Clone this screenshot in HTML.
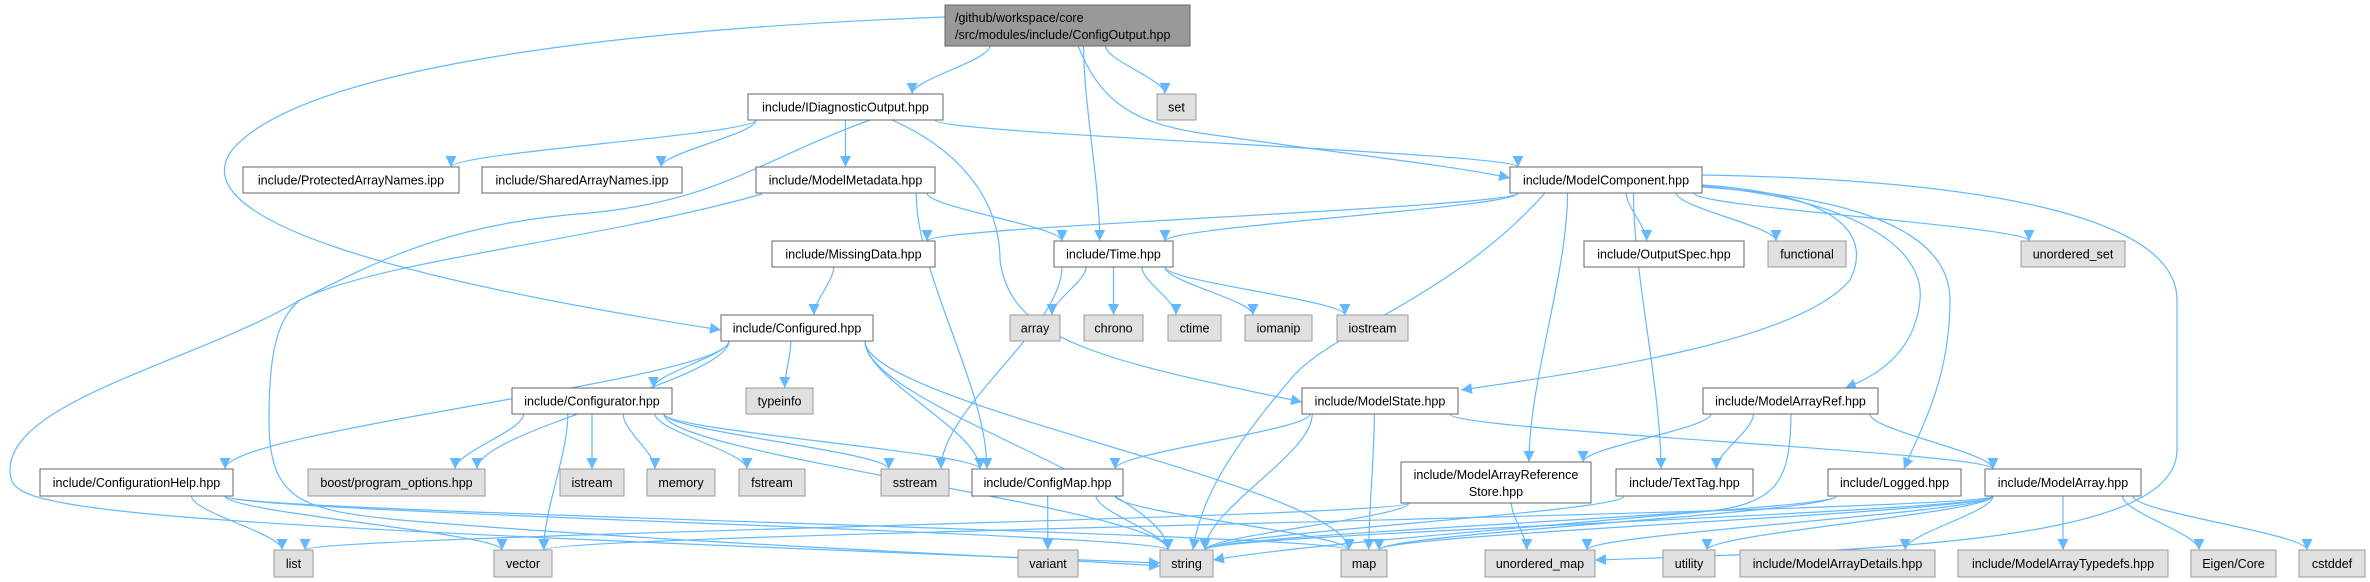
<!DOCTYPE html>
<html><head><meta charset="utf-8"><style>
html,body{margin:0;padding:0;background:#fff;}
svg{display:block;}
text{font-family:"Liberation Sans",Arial,sans-serif;font-size:12.5px;fill:#000;}
</style></head><body>
<svg id="g" width="2370" height="582" viewBox="0 0 2370 582" xmlns="http://www.w3.org/2000/svg">
<defs><marker id="a" viewBox="0 0 10 10" refX="10" refY="5" markerWidth="11" markerHeight="11" markerUnits="userSpaceOnUse" orient="auto"><path d="M0,0L10,5L0,10z" fill="#63b8ff"/></marker></defs>
<g id="edges" fill="none" stroke="#63b8ff" stroke-width="1.2"></g>
<g id="nodes">
<rect x="945" y="5" width="245" height="41" fill="#999" stroke="#666"/>
<text x="955" y="22">/github/workspace/core</text>
<text x="955" y="39">/src/modules/include/ConfigOutput.hpp</text>
<rect x="1401" y="462" width="190" height="41" fill="#fff" stroke="#666"/>
<text x="1496" y="479" text-anchor="middle">include/ModelArrayReference</text>
<text x="1496" y="496" text-anchor="middle">Store.hpp</text>
</g>
</svg>
<script>
var N={
idiag:[748,94,943,120,"include/IDiagnosticOutput.hpp",0],
set:[1157,94,1196,120,"set",1],
prot:[243,167,459,193,"include/ProtectedArrayNames.ipp",0],
shared:[482,167,682,193,"include/SharedArrayNames.ipp",0],
meta:[756,167,935,193,"include/ModelMetadata.hpp",0],
comp:[1510,167,1702,193,"include/ModelComponent.hpp",0],
missing:[772,241,935,267,"include/MissingData.hpp",0],
time:[1054,241,1173,267,"include/Time.hpp",0],
outspec:[1584,241,1744,267,"include/OutputSpec.hpp",0],
functional:[1768,241,1846,267,"functional",1],
uset:[2021,241,2125,267,"unordered_set",1],
configured:[721,315,873,341,"include/Configured.hpp",0],
array:[1010,315,1060,341,"array",1],
chrono:[1084,315,1143,341,"chrono",1],
ctime:[1168,315,1221,341,"ctime",1],
iomanip:[1245,315,1312,341,"iomanip",1],
iostream:[1337,315,1408,341,"iostream",1],
configurator:[512,388,672,414,"include/Configurator.hpp",0],
typeinfo:[746,388,813,414,"typeinfo",1],
state:[1302,388,1458,414,"include/ModelState.hpp",0],
aref:[1703,388,1878,414,"include/ModelArrayRef.hpp",0],
help:[40,469,233,496,"include/ConfigurationHelp.hpp",0],
boost:[308,469,485,496,"boost/program_options.hpp",1],
istream:[560,469,624,496,"istream",1],
memory:[647,469,715,496,"memory",1],
fstream:[739,469,805,496,"fstream",1],
sstream:[881,469,949,496,"sstream",1],
cmap:[972,469,1123,496,"include/ConfigMap.hpp",0],
store:[1401,462,1591,503,null,0],
texttag:[1616,469,1753,496,"include/TextTag.hpp",0],
logged:[1828,469,1961,496,"include/Logged.hpp",0],
marray:[1985,469,2141,496,"include/ModelArray.hpp",0],
list:[274,550,313,577,"list",1],
vector:[494,550,552,577,"vector",1],
variant:[1018,550,1078,577,"variant",1],
string:[1160,550,1213,577,"string",1],
map:[1341,550,1387,577,"map",1],
umap:[1485,550,1595,577,"unordered_map",1],
utility:[1663,550,1715,577,"utility",1],
details:[1740,550,1935,577,"include/ModelArrayDetails.hpp",1],
typedefs:[1958,550,2168,577,"include/ModelArrayTypedefs.hpp",1],
eigen:[2191,550,2276,577,"Eigen/Core",1],
cstddef:[2299,550,2365,577,"cstddef",1],
root:[945,5,1190,46,null,0]
};
var ns="http://www.w3.org/2000/svg";
var G=document.getElementById("nodes"),E=document.getElementById("edges");
for(var k in N){var n=N[k];if(!n[4])continue;
var r=document.createElementNS(ns,"rect");r.setAttribute("x",n[0]);r.setAttribute("y",n[1]);r.setAttribute("width",n[2]-n[0]);r.setAttribute("height",n[3]-n[1]);
r.setAttribute("fill",n[5]?"#e0e0e0":"#fff");r.setAttribute("stroke",n[5]?"#999":"#666");G.appendChild(r);
var t=document.createElementNS(ns,"text");t.setAttribute("x",(n[0]+n[2])/2);t.setAttribute("y",(n[1]+n[3])/2+4.5);t.setAttribute("text-anchor","middle");t.textContent=n[4];G.appendChild(t);}
function P(d){var p=document.createElementNS(ns,"path");p.setAttribute("d",d);p.setAttribute("marker-end","url(#a)");E.appendChild(p);}
function cl(v,a,b){return Math.max(a,Math.min(b,v));}
function L(s,t){var S=N[s],T=N[t];var scx=(S[0]+S[2])/2,tcx=(T[0]+T[2])/2;
var sx=cl(scx+(tcx-scx)*0.35,S[0]+8,S[2]-8),ex=cl(tcx+(scx-tcx)*0.3,T[0]+8,T[2]-8);
var sy=S[3],ey=T[1];
if(T[1]>=S[3]){P("M"+sx+","+sy+" C"+sx+","+(sy+(ey-sy)*0.3)+" "+ex+","+(ey-(ey-sy)*0.3)+" "+ex+","+ey);}
else{P("M"+sx+","+sy+" L"+ex+","+ey);}}
var ed=[["root","idiag"],["root","time"],["root","set"],
["idiag","prot"],["idiag","shared"],["idiag","meta"],["idiag","comp"],
["meta","time"],["meta","cmap"],
["comp","missing"],["comp","time"],["comp","outspec"],["comp","functional"],["comp","uset"],["comp","store"],["comp","texttag"],
["missing","configured"],
["time","array"],["time","chrono"],["time","ctime"],["time","iomanip"],["time","iostream"],["time","sstream"],
["configured","configurator"],["configured","typeinfo"],["configured","boost"],["configured","help"],["configured","cmap"],["configured","string"],["configured","map"],
["configurator","boost"],["configurator","istream"],["configurator","memory"],["configurator","fstream"],["configurator","sstream"],["configurator","cmap"],["configurator","vector"],["configurator","string"],
["help","list"],["help","vector"],["help","string"],["help","map"],
["state","cmap"],["state","string"],["state","map"],["state","marray"],
["cmap","variant"],["cmap","string"],["cmap","map"],
["store","list"],["store","string"],["store","umap"],
["aref","store"],["aref","texttag"],["aref","marray"],
["texttag","string"],["logged","string"],["logged","map"],
["marray","vector"],["marray","string"],["marray","map"],["marray","umap"],["marray","utility"],["marray","details"],["marray","typedefs"],["marray","eigen"],["marray","cstddef"]];
ed.forEach(function(e){L(e[0],e[1]);});
P("M1078,46 C1100,100 1130,122 1200,133 C1350,155 1450,165 1510,178");
P("M945,17 C600,30 300,70 232,150 C180,220 400,280 721,330");
P("M870,120 C760,160 720,200 590,213 C450,223 380,260 300,300 C200,360 10,400 10,470 C10,510 40,520 1160,563");
P("M762,194 C600,240 380,260 300,300 C275,320 269,360 269,420 C269,500 300,510 400,520 C700,545 1000,555 1160,566");
P("M1702,175 C2000,180 2177,220 2177,300 L2177,450 C2177,540 1900,550 1595,560");
P("M892,120 C960,150 1000,200 1000,260 C1010,340 1100,360 1302,402");
P("M1702,185 C1850,195 1870,240 1850,280 C1800,340 1600,370 1461,390");
P("M1702,186 C1860,200 1925,250 1920,300 C1915,350 1880,375 1845,388");
P("M1702,187 C1900,200 1950,250 1950,300 C1950,380 1920,430 1904,469");
P("M1545,193 C1450,300 1330,330 1290,380 C1230,450 1200,500 1193,550");
P("M1791,414 C1790,480 1780,505 1700,512 C1500,530 1300,545 1213,560");
</script>
</body></html>
